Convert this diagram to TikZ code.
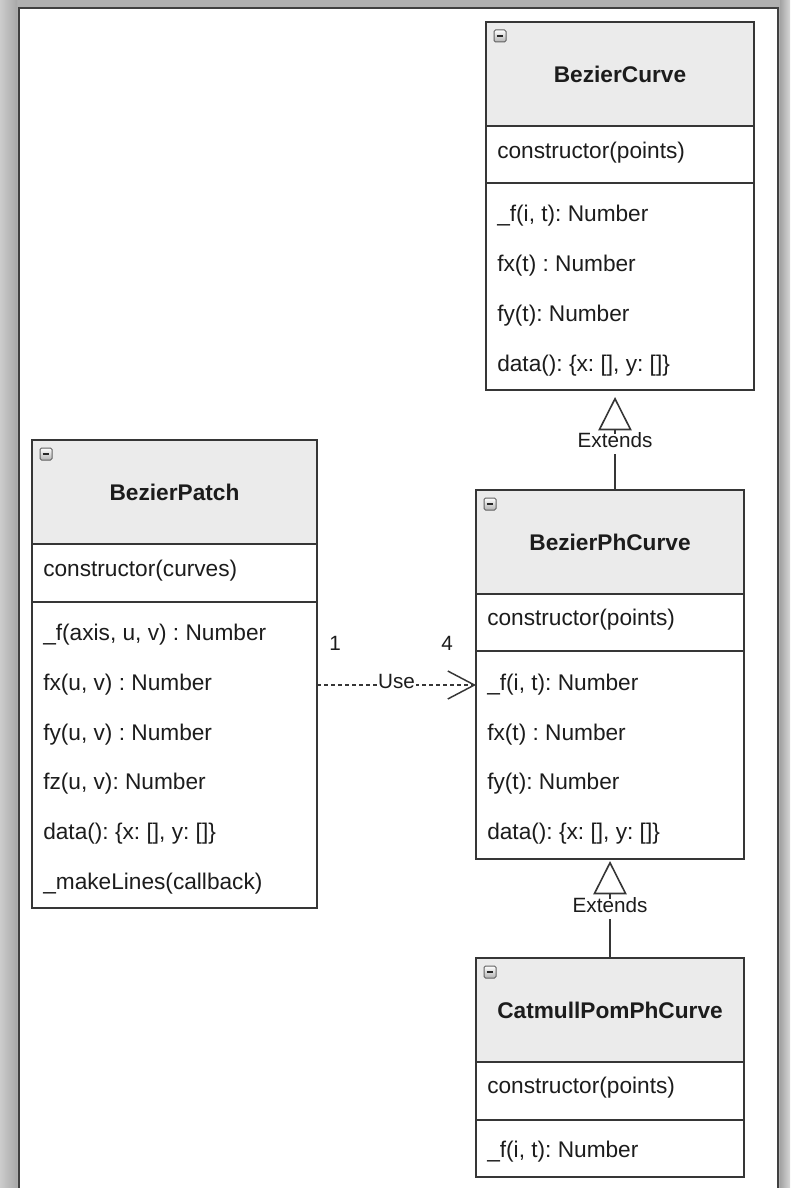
\documentclass[tikz,border=0pt]{standalone}
\usepackage{fontspec}
\setmainfont{Liberation Sans}
\usetikzlibrary{arrows.meta}
\frenchspacing

% one drawing unit = one screen pixel
\def\pxu{*0.75pt}
\newcommand\memberfont{\fontsize{17}{20}\selectfont}
\newcommand\titlefont{\fontsize{17}{20}\selectfont\bfseries}
\newcommand\tagfont{\fontsize{15.5}{18}\selectfont}

\definecolor{edge}{HTML}{363636}
\definecolor{headfill}{HTML}{EBEBEB}
\definecolor{ink}{HTML}{1C1C1C}

\tikzset{
  part/.style={draw=edge, line width=1.6\pxu, anchor=north west,
    inner sep=0pt, outer sep=0pt},
  head/.style={part, fill=headfill, font=\titlefont, text=ink},
  body/.style={part, fill=white},
  member/.style={anchor=west, inner sep=0pt, font=\memberfont, text=ink,
    text height=0.8em, text depth=0pt},
  icon/.style={draw=black!62, rounded corners=1.5\pxu, minimum size=12\pxu,
    inner sep=0pt, top color=white, bottom color=black!30, line width=1\pxu},
  tag/.style={font=\tagfont, text=ink, fill=white, inner xsep=1\pxu,
    inner ysep=4\pxu, text height=0.72em, text depth=0.2em},
  mult/.style={font=\tagfont, text=ink, inner sep=0pt},
  usearrow/.style={draw=edge, line width=0.9pt, dash pattern=on 3pt off 2.25pt,
    -{Straight Barb[length=20pt, width=21pt, line width=1.1pt]}},
  extends/.style={draw=edge, line width=1.2pt,
    -{Triangle[fill=white, length=25pt, width=25pt, line width=1.2pt]}},
}

\newcommand\collapser[3]{\node[icon] (#1) at (#2,#3) {\color{black!85}\rule{5.2pt}{1.4pt}};}

\begin{document}
\begin{tikzpicture}[x=0.75pt, y=-0.75pt]
\useasboundingbox (0,0) rectangle (790,1188);
\clip (0,0) rectangle (790,1188);

% window frame around the canvas
\fill[black!31] (0,0) rectangle (790,1188);
\shade[left color=black!20, right color=black!34] (0,0) rectangle (17,1188);
\shade[left color=black!36, right color=black!16] (780,0) rectangle (790,1188);
\draw[draw=black!75, line width=1.6pt, fill=white] (19,8) rectangle (778,1205);

% ---------------- BezierCurve ----------------
\node[head, minimum width=268\pxu, minimum height=104\pxu] (bc-head) at (486,22) {BezierCurve};
\node[body, minimum width=268\pxu, minimum height=57\pxu] (bc-ctor) at (486,126) {};
\node[body, minimum width=268\pxu, minimum height=207\pxu] (bc-meth) at (486,183) {};
\collapser{bc-icon}{500}{36}
\node[member] (bc-c1) at (497,153) {constructor(points)};
\node[member] (bc-m1) at (497,216) {\_f(i, t): Number};
\node[member] (bc-m2) at (497,266) {fx(t) : Number};
\node[member] (bc-m3) at (497,316) {fy(t): Number};
\node[member] (bc-m4) at (497,366) {data(): \{x: [], y: []\}};

% ---------------- BezierPhCurve ----------------
\node[head, minimum width=268\pxu, minimum height=104\pxu] (bpc-head) at (476,490) {BezierPhCurve};
\node[body, minimum width=268\pxu, minimum height=57\pxu] (bpc-ctor) at (476,594) {};
\node[body, minimum width=268\pxu, minimum height=208\pxu] (bpc-meth) at (476,651) {};
\collapser{bpc-icon}{490}{504}
\node[member] (bpc-c1) at (487,620) {constructor(points)};
\node[member] (bpc-m1) at (487,685) {\_f(i, t): Number};
\node[member] (bpc-m2) at (487,735) {fx(t) : Number};
\node[member] (bpc-m3) at (487,784) {fy(t): Number};
\node[member] (bpc-m4) at (487,834) {data(): \{x: [], y: []\}};

% ---------------- CatmullPomPhCurve ----------------
\node[head, minimum width=268\pxu, minimum height=104\pxu] (cat-head) at (476,958) {CatmullPomPhCurve};
\node[body, minimum width=268\pxu, minimum height=58\pxu] (cat-ctor) at (476,1062) {};
\node[body, minimum width=268\pxu, minimum height=57\pxu] (cat-meth) at (476,1120) {};
\collapser{cat-icon}{490}{972}
\node[member] (cat-c1) at (487,1088) {constructor(points)};
\node[member] (cat-m1) at (487,1152) {\_f(i, t): Number};

% ---------------- BezierPatch ----------------
\node[head, minimum width=285\pxu, minimum height=104\pxu] (bp-head) at (32,440) {BezierPatch};
\node[body, minimum width=285\pxu, minimum height=58\pxu] (bp-ctor) at (32,544) {};
\node[body, minimum width=285\pxu, minimum height=306\pxu] (bp-meth) at (32,602) {};
\collapser{bp-icon}{46}{454}
\node[member] (bp-c1) at (43,571) {constructor(curves)};
\node[member] (bp-m1) at (43,635) {\_f(axis, u, v) : Number};
\node[member] (bp-m2) at (43,685) {fx(u, v) : Number};
\node[member] (bp-m3) at (43,735) {fy(u, v) : Number};
\node[member] (bp-m4) at (43,784) {fz(u, v): Number};
\node[member] (bp-m5) at (43,834) {data(): \{x: [], y: []\}};
\node[member] (bp-m6) at (43,884) {\_makeLines(callback)};

% ---------------- relations ----------------
% BezierPatch uses BezierPhCurve
\draw[usearrow] (bp-meth.east |- bpc-m1) -- (bpc-meth.west |- bpc-m1)
  node[tag, midway] (use) {Use};
\node[mult] (use-from) at (335,643) {1};
\node[mult] (use-to) at (447,643) {4};

% BezierPhCurve extends BezierCurve
\draw[extends] ([xshift=5\pxu]bpc-head.north) -- ([xshift=-5\pxu, yshift=-7\pxu]bc-meth.south);
\node[tag] (ext1) at (615,444) {Extends};

% CatmullPomPhCurve extends BezierPhCurve
\draw[extends] (cat-head.north) -- ([yshift=-2\pxu]bpc-meth.south);
\node[tag] (ext2) at (610,909) {Extends};
\end{tikzpicture}
\end{document}
